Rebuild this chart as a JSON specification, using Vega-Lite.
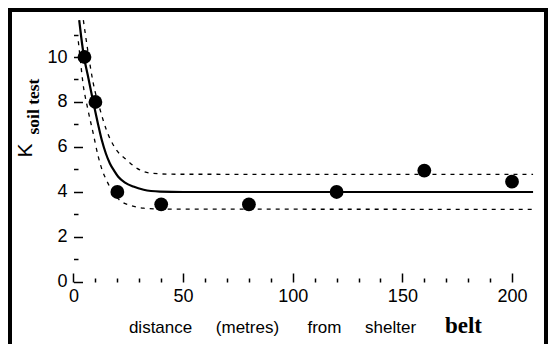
{
  "$schema": "https://vega.github.io/schema/vega-lite/v6.json",
  "autosize": "none",
  "padding": {"left": 10, "top": 10, "right": 8, "bottom": 0},
  "width": 536,
  "height": 334,
  "background": "white",
  "config": {"view": {"stroke": "black", "strokeWidth": 4, "strokeDash": [870, 536, 400]}, "font": "Liberation Sans"},
  "datasets": {
    "obs": [
      {"distance": 5, "K": 10.0},
      {"distance": 10, "K": 8.0},
      {"distance": 20, "K": 4.0},
      {"distance": 40, "K": 3.45},
      {"distance": 80, "K": 3.45},
      {"distance": 120, "K": 4.0},
      {"distance": 160, "K": 4.95},
      {"distance": 200, "K": 4.46}
    ],
    "fit": [
      {"distance": 2.6, "K": 11.64},
      {"distance": 3.5, "K": 10.9},
      {"distance": 4.8, "K": 10.0},
      {"distance": 6.5, "K": 9.2},
      {"distance": 9, "K": 8.0},
      {"distance": 11, "K": 7.1},
      {"distance": 12.9, "K": 6.31},
      {"distance": 14.8, "K": 5.7},
      {"distance": 16.6, "K": 5.27},
      {"distance": 18.5, "K": 4.95},
      {"distance": 20.4, "K": 4.68},
      {"distance": 23.5, "K": 4.42},
      {"distance": 27.3, "K": 4.24},
      {"distance": 32, "K": 4.1},
      {"distance": 39.5, "K": 4.02},
      {"distance": 50, "K": 4.0},
      {"distance": 100, "K": 4.0},
      {"distance": 150, "K": 4.0},
      {"distance": 209.6, "K": 4.0}
    ],
    "upper": [
      {"distance": 4.5, "K": 11.64},
      {"distance": 6.5, "K": 10.3},
      {"distance": 9, "K": 8.84},
      {"distance": 12, "K": 7.7},
      {"distance": 15, "K": 6.76},
      {"distance": 19, "K": 5.95},
      {"distance": 24.3, "K": 5.42},
      {"distance": 29, "K": 5.05},
      {"distance": 34.9, "K": 4.84},
      {"distance": 45, "K": 4.79},
      {"distance": 209.6, "K": 4.78}
    ],
    "lower": [
      {"distance": 2.2, "K": 10.7},
      {"distance": 3.2, "K": 9.8},
      {"distance": 4.3, "K": 8.85},
      {"distance": 6.5, "K": 7.7},
      {"distance": 9, "K": 6.6},
      {"distance": 11.3, "K": 5.57},
      {"distance": 13, "K": 5.0},
      {"distance": 15, "K": 4.53},
      {"distance": 18, "K": 4.0},
      {"distance": 21, "K": 3.64},
      {"distance": 26.5, "K": 3.39},
      {"distance": 32, "K": 3.28},
      {"distance": 40, "K": 3.24},
      {"distance": 209.6, "K": 3.23}
    ]
  },
  "resolve": {"axis": {"x": "independent", "y": "independent"}},
  "layer": [
    {
      "data": {"name": "obs"},
      "mark": {"type": "point", "filled": true, "size": 190, "color": "black", "opacity": 1},
      "encoding": {
        "x": {
          "field": "distance", "type": "quantitative",
          "scale": {"domain": [-28.96, 215.5], "nice": false, "zero": false},
          "axis": {
            "orient": "bottom", "offset": -62, "values": [0, 50, 100, 150, 200],
            "ticks": false, "tickSize": 0,
            "domain": false, "grid": false, "labelFlush": false,
            "labelFontSize": 18, "labelColor": "black", "labelPadding": 5,
            "title": "distance\u00a0\u00a0\u00a0\u00a0\u00a0(metres)\u00a0\u00a0\u00a0\u00a0\u00a0\u00a0from\u00a0\u00a0\u00a0\u00a0\u00a0shelter",
            "titleFontSize": 17, "titleFontWeight": "normal", "titleColor": "black",
            "titleX": 262, "titleY": 50.5, "titleAlign": "center", "titleBaseline": "alphabetic", "titleAngle": 0
          }
        },
        "y": {
          "field": "K", "type": "quantitative",
          "scale": {"domain": [-2.756, 12.089], "nice": false, "zero": false},
          "axis": {
            "orient": "left", "offset": -63.5, "values": [0, 2, 4, 6, 8, 10],
            "ticks": false, "tickSize": 0,
            "domain": false, "grid": false, "labelFlush": false,
            "labelFontSize": 18, "labelColor": "black", "labelPadding": 6.5,
            "title": "K", "titleFontSize": 21, "titleFontWeight": "normal", "titleColor": "black",
            "titleAngle": 270, "titleX": -48, "titleY": 140, "titleAlign": "center", "titleBaseline": "middle"
          }
        }
      }
    },
    {
      "data": {"name": "upper"},
      "mark": {"type": "line", "color": "black", "strokeWidth": 1.3, "strokeDash": [4, 5], "interpolate": "monotone"},
      "encoding": {
        "x": {
          "field": "distance", "type": "quantitative",
          "axis": {
            "orient": "top", "offset": -272,
            "values": [10, 20, 30, 40, 60, 70, 80, 90, 110, 120, 130, 140, 160, 170, 180, 190],
            "tickSize": 4, "tickWidth": 1.5, "tickColor": "black",
            "domain": false, "grid": false, "labels": false,
            "title": "belt", "titleFont": "Liberation Serif", "titleFontSize": 23, "titleFontWeight": "bold", "titleColor": "black",
            "titleX": 453, "titleY": 50.5, "titleAlign": "center", "titleBaseline": "alphabetic", "titleAngle": 0
          }
        },
        "y": {
          "field": "K", "type": "quantitative",
          "axis": {
            "orient": "right", "offset": -472.5, "values": [1, 3, 5, 7, 9, 11],
            "tickSize": 4.5, "tickWidth": 1.5, "tickColor": "black",
            "domain": false, "grid": false, "labels": false,
            "title": "soil test", "titleFont": "Liberation Serif", "titleFontSize": 17.5, "titleFontWeight": "bold", "titleColor": "black",
            "titleAngle": 270, "titleX": -40, "titleY": 96, "titleAlign": "center", "titleBaseline": "middle"
          }
        }
      }
    },
    {
      "data": {"name": "lower"},
      "mark": {"type": "line", "color": "black", "strokeWidth": 1.3, "strokeDash": [4, 5], "interpolate": "monotone"},
      "encoding": {
        "x": {"field": "distance", "type": "quantitative", "axis": null},
        "y": {"field": "K", "type": "quantitative", "axis": null}
      }
    },
    {
      "data": {"name": "fit"},
      "mark": {"type": "line", "color": "black", "strokeWidth": 2.2, "interpolate": "monotone"},
      "encoding": {
        "x": {
          "field": "distance", "type": "quantitative",
          "axis": {
            "orient": "top", "offset": -272, "values": [0, 50, 100, 150, 200],
            "tickSize": 9, "tickWidth": 1.5, "tickColor": "black",
            "domain": false, "grid": false, "labels": false, "title": null
          }
        },
        "y": {
          "field": "K", "type": "quantitative",
          "axis": {
            "orient": "right", "offset": -472.5, "values": [0, 2, 4, 6, 8, 10],
            "tickSize": 9, "tickWidth": 1.5, "tickColor": "black",
            "domain": false, "grid": false, "labels": false, "title": null
          }
        }
      }
    },
    {
      "mark": {"type": "rule", "color": "black", "strokeWidth": 1.6},
      "encoding": {
        "x": {"datum": 0, "type": "quantitative", "axis": null},
        "x2": {"datum": 209.6},
        "y": {"datum": 0, "type": "quantitative", "axis": null}
      }
    },
    {
      "mark": {"type": "rule", "color": "black", "strokeWidth": 1.6},
      "encoding": {
        "x": {"datum": 0, "type": "quantitative", "axis": null},
        "y": {"datum": 0, "type": "quantitative", "axis": null},
        "y2": {"datum": 11.64}
      }
    }
  ]
}
